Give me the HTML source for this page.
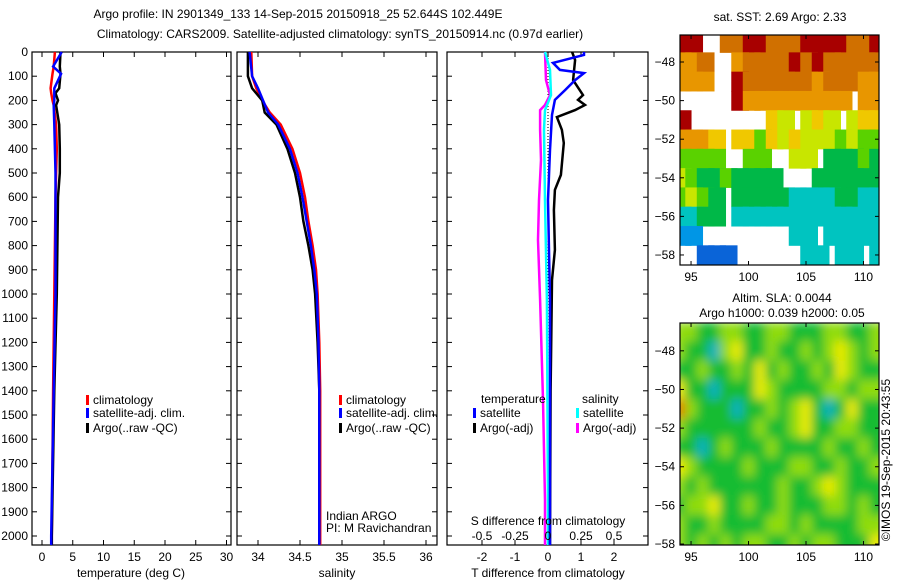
<!DOCTYPE html>
<html><head><meta charset="utf-8"><style>
body{margin:0;background:#fff}
svg{display:block;font-family:"Liberation Sans",sans-serif}
text{font-size:12px;fill:#000}
</style></head><body>
<svg id="c" width="900" height="580" viewBox="0 0 900 580"></svg>
<script>
// ---- data ----
const depthTicks=[0,100,200,300,400,500,600,700,800,900,1000,1100,1200,1300,1400,1500,1600,1700,1800,1900,2000];
const tempTicks=[0,5,10,15,20,25,30];
const salTicks=[34,34.5,35,35.5,36];
const tdTicks=[-2,-1,0,1,2];
const sdTicks=["-0.5","-0.25","0","0.25","0.5"];
const sdTickVals=[-0.5,-0.25,0,0.25,0.5];
const lonTicks=[95,100,105,110];
const latTicks=[-48,-50,-52,-54,-56,-58];

const tDepth=[0,60,90,150,170,200,220,300,400,500,600,800,1000,1400,2000,2040];
const tClim=[2.1,1.9,1.7,1.4,1.5,1.7,1.9,2.3,2.4,2.3,2.2,2.1,2.0,1.8,1.6,1.6];
const tArgo=[3.0,2.9,3.0,2.8,2.2,2.6,2.3,2.8,2.9,2.9,2.6,2.5,2.4,2.0,1.6,1.6];
const tSat=[3.2,1.8,3.1,2.0,2.0,2.0,1.9,2.0,2.1,2.2,2.2,2.2,2.2,1.9,1.5,1.5];

const sDepth=[0,100,150,200,250,300,400,500,600,700,800,900,1000,1200,1400,2000,2040];
const sClim=[33.92,33.93,33.98,34.05,34.14,34.27,34.41,34.5,34.56,34.6,34.65,34.69,34.71,34.73,34.74,34.74,34.74];
const sArgo=[33.88,33.88,33.93,34.05,34.08,34.22,34.35,34.44,34.5,34.54,34.6,34.65,34.68,34.71,34.73,34.73,34.73];
const sSat=[33.9,33.93,34.0,34.06,34.12,34.24,34.38,34.47,34.53,34.58,34.63,34.67,34.7,34.72,34.73,34.73,34.73];

const dTArgoDepth=[0,33,116,178,198,219,240,269,322,376,508,570,653,818,942,1400,2040];
const dTArgo=[0.73,0.82,0.76,1.06,0.91,1.12,0.82,0.27,0.42,0.48,0.39,0.21,0.18,0.21,0.12,0.08,0.06];
const dTSatDepth=[0,12,45,74,87,116,157,198,260,405,612,1025,2040];
const dTSat=[1.09,1.09,0.15,0.36,1.09,0.82,0.52,0.21,0.12,0.06,0.0,0.06,0.06];
const dSSatDepth=[0,74,178,240,322,612,1025,1851,2040];
const dSSat=[-0.023,0.015,0.023,-0.023,-0.03,-0.023,-0.008,0,0];
const dSArgoDepth=[0,116,178,219,240,322,446,612,777,1025,1438,1851,2040];
const dSArgo=[-0.023,-0.015,0.015,-0.023,-0.06,-0.06,-0.053,-0.068,-0.076,-0.06,-0.038,-0.023,-0.023];

const sstGrid=[
[9,9,-1,-1,8,8,9,9,8,8,8,9,9,9,9,8,8,9],
[7,7,8,-1,-1,7,8,8,8,8,9,8,9,8,8,8,8,8],
[7,7,7,-1,-1,9,8,8,8,8,8,8,7,8,8,8,7,7],
[-1,-1,-1,-1,-1,9,7,7,7,7,7,7,7,7,7,-1,7,7],
[9,-1,-1,-1,-1,-1,-1,-1,6,5,-1,5,6,5,-1,5,6,6],
[7,7,7,6,-1,6,6,4,6,5,6,5,5,5,4,5,4,4],
[4,4,4,4,-1,-1,4,4,-1,-1,5,5,-1,3,3,3,4,3],
[5,4,3,3,4,3,3,3,3,-1,-1,-1,3,3,3,3,3,3],
[4,5,4,3,-1,3,3,3,3,3,2,2,2,2,3,3,2,2],
[2,2,3,3,-1,2,2,2,2,2,2,2,2,2,2,2,2,2],
[1,1,-1,-1,-1,-1,-1,-1,-1,-1,2,2,-1,2,2,2,2,2],
[-1,-1,0,0,0,-1,-1,-1,-1,-1,-1,2,2,-1,2,2,-1,2]];
const slaGrid=[
[3,3,2,2,3,3,2,2,3,3,2,2,2,3,3,2,2,3],
[3,2,2,1,3,4,2,2,3,2,2,3,2,3,4,3,2,3],
[2,2,3,2,2,3,2,4,2,3,2,2,3,2,4,3,2,2],
[4,2,2,1,2,2,2,4,3,2,2,2,2,3,3,2,3,3],
[5,3,2,2,2,1,2,2,3,2,3,4,2,1,2,4,2,2],
[3,2,2,2,2,2,2,3,2,2,3,4,2,2,3,3,2,2],
[2,2,1,2,3,2,2,2,3,2,2,2,2,3,2,2,3,2],
[4,3,2,2,2,2,3,2,2,2,3,3,2,2,3,2,2,3],
[3,2,3,2,2,2,2,2,2,3,2,2,3,4,3,2,2,2],
[2,3,3,4,2,2,3,2,2,3,2,2,2,3,3,2,3,2],
[3,2,2,3,2,2,2,2,3,3,2,3,2,2,2,2,3,3],
[3,2,3,2,3,2,3,3,2,2,3,2,3,3,2,2,2,4]];
const sstColors=["#0a64d8","#0096e6","#00c4c0","#00b848","#5ad200","#c8e600","#f0c800","#e89600","#d07000","#a80000"];
const slaColors=["#0050d0","#10b0c0","#18bc30","#90dc10","#ecec00","#e07a00"];

// ---- helpers ----
const NS="http://www.w3.org/2000/svg",svg=document.getElementById('c');
function el(t,a,p){const e=document.createElementNS(NS,t);for(const k in a)e.setAttribute(k,a[k]);(p||svg).appendChild(e);return e;}
function txt(x,y,s,anchor,p,extra){const e=el('text',Object.assign({x:x,y:y,'text-anchor':anchor||'start'},extra||{}),p);e.textContent=s;return e;}
const yD=d=>52+d*0.242;

let t=txt(298,18,"Argo profile: IN 2901349_133 14-Sep-2015 20150918_25 52.644S 102.449E","middle");

t=txt(340,38,"Climatology: CARS2009. Satellite-adjusted climatology: synTS_20150914.nc (0.97d earlier)","middle");


function panel(name,x0,x1,xf,ticks,labels,showDepth){
  const g=el('g',{});
  
  
  el('rect',{x:x0,y:52,width:x1-x0,height:493,fill:'none',stroke:'#000','stroke-width':1.2},g);
  ticks.forEach((v,i)=>{const x=xf(v);
    el('line',{x1:x,x2:x,y1:545,y2:540,stroke:'#000'},g);
    el('line',{x1:x,x2:x,y1:52,y2:57,stroke:'#000'},g);
    if(labels){const l=txt(x,561,labels[i],'middle',g);}
  });
  depthTicks.forEach(d=>{const y=yD(d);
    el('line',{x1:x0,x2:x0+5,y1:y,y2:y,stroke:'#000'},g);
    el('line',{x1:x1,x2:x1-5,y1:y,y2:y,stroke:'#000'},g);
    if(showDepth){const l=txt(28,y+4,String(d),'end',g);}
  });
  return g;
}
function line(g,xs,ds,xf,col,w,name){
  const pts=xs.map((v,i)=>xf(v).toFixed(1)+','+Math.min(yD(ds[i]),545).toFixed(1)).join(' ');
  const p=el('polyline',{points:pts,fill:'none',stroke:col,'stroke-width':w||2.5},g);
  
}
function legend(g,x,y,col,label,name){
  const r=el('rect',{x:x,y:y-9,width:3,height:10,fill:col},g);
  
  const l=txt(x+7,y,label,'start',g);
}

const xT=v=>42+v*6.15;
let g1=panel('temperature-panel',32,231,xT,tempTicks,tempTicks.map(String),true);
line(g1,tClim,tDepth,xT,'#f00',2.5,'temp-climatology-line');
line(g1,tArgo,tDepth,xT,'#000',2.5,'temp-argo-line');
line(g1,tSat,tDepth,xT,'#00f',2.5,'temp-satellite-line');
legend(g1,86,404,'#f00','climatology','legend-climatology');
legend(g1,86,417,'#00f','satellite-adj. clim.','legend-satellite');
legend(g1,86,432,'#000','Argo(..raw -QC)','legend-argo');
t=txt(131,577,"temperature (deg C)",'middle',g1);

const xS=v=>258+(v-34)*84;
let g2=panel('salinity-panel',237,437,xS,salTicks,["34","34.5","35","35.5","36"],false);
line(g2,sClim,sDepth,xS,'#f00',2.5,'sal-climatology-line');
line(g2,sArgo,sDepth,xS,'#000',2.5,'sal-argo-line');
line(g2,sSat,sDepth,xS,'#00f',2.5,'sal-satellite-line');
legend(g2,339,404,'#f00','climatology','legend-sal-climatology');
legend(g2,339,417,'#00f','satellite-adj. clim.','legend-sal-satellite');
legend(g2,339,432,'#000','Argo(..raw -QC)','legend-sal-argo');
t=txt(326,520,"Indian ARGO",'start',g2);
t=txt(326,532,"PI: M Ravichandran",'start',g2);
t=txt(337,577,"salinity",'middle',g2);

const xTD=v=>548+v*33, xSD=v=>548+v*132;
let g3=panel('difference-panel',447,648,xTD,tdTicks,tdTicks.map(String),false);
el('line',{x1:548,x2:548,y1:52,y2:545,stroke:'#000','stroke-dasharray':'1,2'},g3);
line(g3,dSArgo,dSArgoDepth,xSD,'#f0f',2.5,'sal-diff-argo-line');
line(g3,dSSat,dSSatDepth,xSD,'#0ff',2.5,'sal-diff-satellite-line');
line(g3,dTArgo,dTArgoDepth,xTD,'#000',2.5,'temp-diff-argo-line');
line(g3,dTSat,dTSatDepth,xTD,'#00f',2.5,'temp-diff-satellite-line');
t=txt(481,403,"temperature",'start',g3);
t=txt(582,403,"salinity",'start',g3);
legend(g3,473,417,'#00f','satellite','legend-t-satellite');
legend(g3,473,432,'#000','Argo(-adj)','legend-t-argo');
legend(g3,576,417,'#0ff','satellite','legend-s-satellite');
legend(g3,576,432,'#f0f','Argo(-adj)','legend-s-argo');
t=txt(548,525,"S difference from climatology",'middle',g3);
sdTickVals.forEach((v,i)=>{t=txt(xSD(v),540,sdTicks[i],'middle',g3);});
t=txt(548,577,"T difference from climatology",'middle',g3);

function map(name,top,bot,latTop,latBot,grid,colors,blur){
  const x0=680,x1=879,lonL=94.04,lonR=111.35;
  const xL=v=>x0+(v-lonL)/(lonR-lonL)*(x1-x0);
  const yL=v=>top+(latTop-v)/(latTop-latBot)*(bot-top);
  const g=el('g',{});
  
  const cid=name+'-clip';
  const cp=el('clipPath',{id:cid},g);el('rect',{x:x0,y:top,width:x1-x0,height:bot-top},cp);
  const cg=el('g',{'clip-path':'url(#'+cid+')'},g);
  const ig=el('g',blur?{filter:'url(#bl)'}:{},cg);
  grid.forEach((row,r)=>row.forEach((v,c)=>{
    if(v<0)return;
    const lon=94+c;
    const rc=el('rect',{x:xL(lon-0.5),y:yL(-46.5-r),width:xL(lon+1)-xL(lon-0.5)+0.5,height:yL(-47.5-r)-yL(-46.5-r)+0.5,fill:colors[v]},ig);
    
  }));
  el('rect',{x:x0,y:top,width:x1-x0,height:bot-top,fill:'none',stroke:'#000','stroke-width':1.2},g);
  lonTicks.forEach(v=>{const x=xL(v);el('line',{x1:x,x2:x,y1:bot,y2:bot-4,stroke:'#000'},g);el('line',{x1:x,x2:x,y1:top,y2:top+4,stroke:'#000'},g);
    const l=txt(x,bot+16,String(v),'middle',g);});
  latTicks.forEach(v=>{const y=yL(v);el('line',{x1:x0,x2:x0+4,y1:y,y2:y,stroke:'#000'},g);el('line',{x1:x1,x2:x1-4,y1:y,y2:y,stroke:'#000'},g);
    const l=txt(675,y+4,String(v).replace('-','\u2212'),'end',g);});
}
const defs=el('defs',{});const f=el('filter',{id:'bl'},defs);el('feGaussianBlur',{stdDeviation:5},f);
map('sst-map',35,265,-46.6,-58.52,sstGrid,sstColors,false);
map('sla-map',323,545,-46.56,-58.05,slaGrid,slaColors,true);
t=txt(780,21,"sat. SST: 2.69 Argo: 2.33",'middle');
t=txt(782,302,"Altim. SLA: 0.0044",'middle');
t=txt(782,317,"Argo h1000: 0.039 h2000: 0.05",'middle');
t=txt(0,0,"\u00a9IMOS 19-Sep-2015 20:43:55",'middle',svg,{transform:'translate(890,460) rotate(-90)'});

</script>
</body></html>
